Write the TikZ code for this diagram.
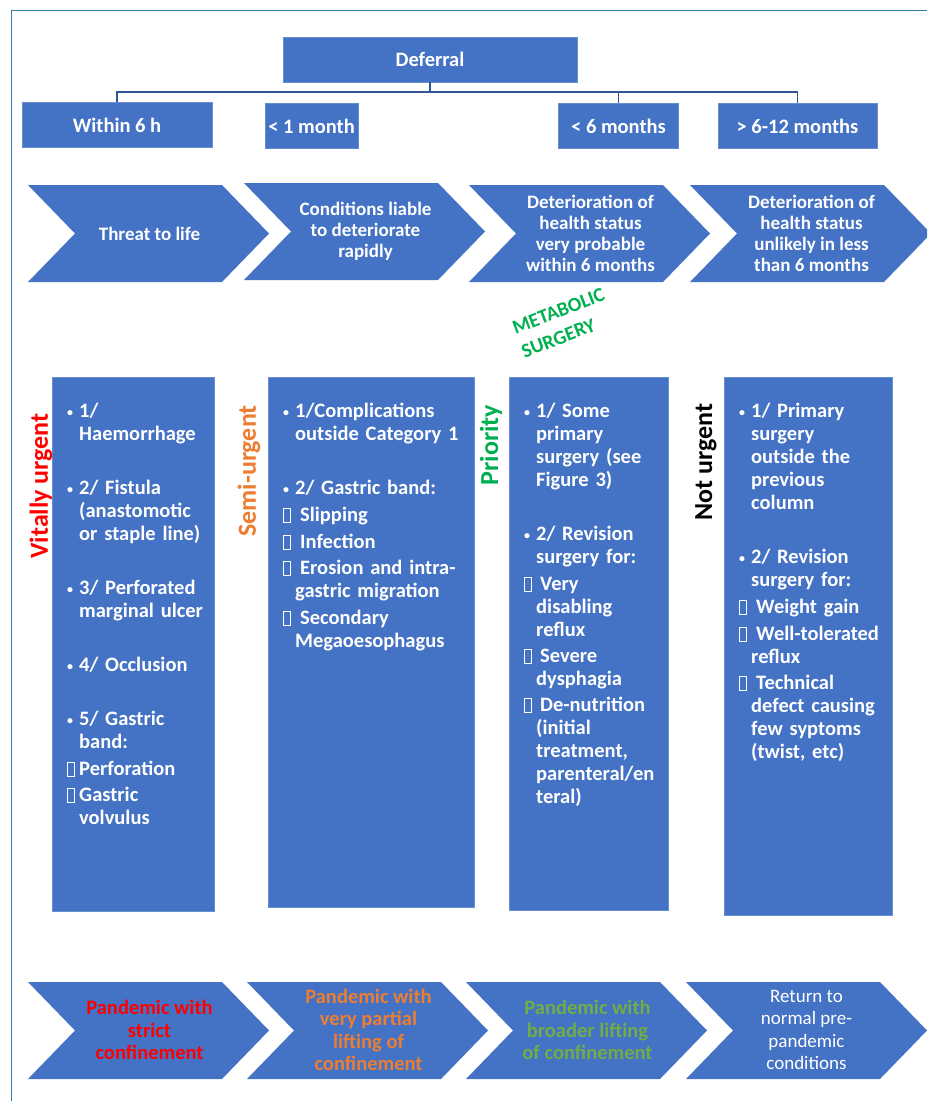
\documentclass[tikz,border=0pt]{standalone}
\usepackage{fontspec}
\setmainfont{Carlito}
\usepackage{xcolor}
\usetikzlibrary{positioning}

\definecolor{boxblue}{HTML}{4472C4}
\definecolor{framecol}{HTML}{2E7EA6}
\definecolor{linkblue}{HTML}{2F5597}
\definecolor{urgred}{HTML}{FF0000}
\definecolor{semiorange}{HTML}{ED7D31}
\definecolor{prigreen}{HTML}{00B050}
\definecolor{liftgreen}{HTML}{70AD47}

\newcommand{\bul}{\makebox[12pt][l]{\raisebox{1.5pt}{\fontsize{12}{12}\selectfont\textbullet}}}
\newcommand{\ind}{\hspace*{12pt}}
\newcommand{\sqb}[1]{\makebox[#1][l]{\setlength{\fboxsep}{0pt}\setlength{\fboxrule}{0.8pt}\fbox{\rule{0pt}{13pt}\rule{6pt}{0pt}}}}

\begin{document}
\begin{tikzpicture}[
  x=1pt, y=-1pt,
  box/.style={fill=boxblue, draw=boxblue!80!white, line width=0.6pt, text=white, inner sep=0pt, align=center},
  hdr/.style={box, minimum height=45pt, font=\fontsize{20.5}{24}\selectfont\bfseries},
  chevtxt/.style={text=white, align=center, inner sep=0pt, font=\fontsize{19}{21}\selectfont\bfseries},
  phase/.style={chevtxt, font=\fontsize{20.5}{22.5}\selectfont\bfseries},
  col/.style={box, anchor=north west},
  coltxt/.style={text=white, align=left, inner sep=0pt, text width=190pt, font=\fontsize{20.5}{23}\selectfont\bfseries},
  vlab/.style={rotate=90, inner sep=0pt, font=\fontsize{26}{28}\selectfont\bfseries},
  link/.style={draw=linkblue, line width=1.4pt},
  chevron/.pic={\fill[boxblue] (0,0) -- (194,0) -- (241,48.5) -- (194,97) -- (0,97) -- (47,48.5) -- cycle;}
]
  \useasboundingbox (0,0) rectangle (927,1101);
  \fill[white] (0,0) rectangle (927,1101);
  \clip (0,0) rectangle (927,1101);
  \draw[framecol, line width=1.5pt] (11.5,1101) -- (11.5,10.5) -- (927,10.5);

  % Deferral tree
  \node[hdr, minimum width=294pt] (def) at (430,59.5) {Deferral};
  \node[hdr, minimum width=190pt] (h6)  at (117,125) {Within 6 h};
  \node[hdr, minimum width=93pt]  (m1)  at (311.5,126) {< 1 month};
  \node[hdr, minimum width=120pt] (m6)  at (618.5,126) {< 6 months};
  \node[hdr, minimum width=159pt] (m12) at (797.5,126) {> 6-12 months};
  \coordinate (bus) at (430,92);
  \draw[link] (def.south) -- (bus) -| (h6.north);
  \draw[link] (bus) -| (m6.north);
  \draw[link] (bus) -| (m12.north);

  % Delay chevrons
  \pic at (28,185)  {chevron};
  \pic at (244,183) {chevron};
  \pic at (469,185) {chevron};
  \pic at (690,185) {chevron};
  \node[chevtxt] (d1) at (149.5,233.5) {Threat to life};
  \node[chevtxt] (d2) at (365.5,231.5) {Conditions liable\\to deteriorate\\rapidly};
  \node[chevtxt] (d3) at (590.5,233.5) {Deterioration of\\health status\\very probable\\within 6 months};
  \node[chevtxt] (d4) at (811.5,233.5) {Deterioration of\\health status\\unlikely in less\\than 6 months};

  \node[text=prigreen, rotate=21, align=left, inner sep=0pt, font=\fontsize{20}{25}\selectfont\bfseries] (meta) at (563,323) {METABOLIC\\SURGERY};

  % Category columns
  \node[col, minimum width=162pt, minimum height=534pt] (c1) at (52,377) {};
  \node[col, minimum width=206pt, minimum height=530pt] (c2) at (268,377) {};
  \node[col, minimum width=159pt, minimum height=533pt] (c3) at (509,377) {};
  \node[col, minimum width=168pt, minimum height=538pt] (c4) at (724,377) {};

  \node[vlab, text=urgred]     (v1) at (41,486)  {Vitally urgent};
  \node[vlab, text=semiorange] (v2) at (249,471) {Semi-urgent};
  \node[vlab, text=prigreen]   (v3) at (491,445) {Priority};
  \node[vlab, text=black]      (v4) at (706,462) {Not urgent};

  \node[coltxt, below right=26pt and 15pt of c1.north west] (t1) {%
    \bul 1/\\
    \ind Haemorrhage\\[31pt]
    \bul 2/ Fistula\\
    \ind (anastomotic\\
    \ind or staple line)\\[31pt]
    \bul 3/ Perforated\\
    \ind marginal ulcer\\[31pt]
    \bul 4/ Occlusion\\[31pt]
    \bul 5/ Gastric\\
    \ind band:\\[4pt]
    \sqb{12pt}Perforation\\[3pt]
    \sqb{12pt}Gastric\\
    \ind volvulus};
  \node[coltxt, below right=26pt and 15pt of c2.north west] (t2) {%
    \bul 1/Complications\\
    \ind outside Category 1\\[31pt]
    \bul 2/ Gastric band:\\[4pt]
    \sqb{17pt}Slipping\\[4pt]
    \sqb{17pt}Infection\\[3pt]
    \sqb{17pt}Erosion and intra-\\
    \ind gastric migration\\[4pt]
    \sqb{17pt}Secondary\\
    \ind Megaoesophagus};
  \node[coltxt, below right=26pt and 15pt of c3.north west] (t3) {%
    \bul 1/ Some\\
    \ind primary\\
    \ind surgery (see\\
    \ind Figure 3)\\[31pt]
    \bul 2/ Revision\\
    \ind surgery for:\\[4pt]
    \sqb{16pt}Very\\
    \ind disabling\\
    \ind reflux\\[3pt]
    \sqb{16pt}Severe\\
    \ind dysphagia\\[3pt]
    \sqb{16pt}De-nutrition\\
    \ind (initial\\
    \ind treatment,\\
    \ind parenteral/en\\
    \ind teral)};
  \node[coltxt, below right=26pt and 15pt of c4.north west] (t4) {%
    \bul 1/ Primary\\
    \ind surgery\\
    \ind outside the\\
    \ind previous\\
    \ind column\\[31pt]
    \bul 2/ Revision\\
    \ind surgery for:\\[4pt]
    \sqb{17pt}Weight gain\\[4pt]
    \sqb{17pt}Well-tolerated\\
    \ind reflux\\[3pt]
    \sqb{17pt}Technical\\
    \ind defect causing\\
    \ind few syptoms\\
    \ind (twist, etc)};

  % Pandemic phases
  \pic at (28,982)  {chevron};
  \pic at (247,982) {chevron};
  \pic at (466,982) {chevron};
  \pic at (686,982) {chevron};
  \node[phase, text=urgred]     (p1) at (149.5,1030) {Pandemic with\\strict\\confinement};
  \node[phase, text=semiorange] (p2) at (368.5,1030) {Pandemic with\\very partial\\lifting of\\confinement};
  \node[phase, text=liftgreen]  (p3) at (587.5,1030) {Pandemic with\\broader lifting\\of confinement};
  \node[phase, font=\fontsize{19}{22.5}\selectfont\mdseries] (p4) at (806.5,1030) {Return to\\normal pre-\\pandemic\\conditions};
\end{tikzpicture}
\end{document}
